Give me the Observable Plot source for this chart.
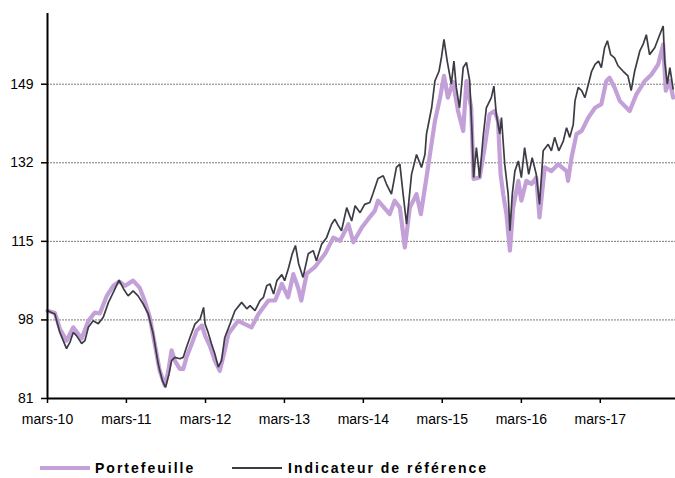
<!DOCTYPE html>
<html>
<head>
<meta charset="utf-8">
<script src="https://cdn.jsdelivr.net/npm/d3@7"></script>
<script src="https://cdn.jsdelivr.net/npm/@observablehq/plot@0.6"></script>
<style>
  html, body { margin: 0; padding: 0; background: #fff; }
  #wrap { position: relative; width: 675px; height: 478px; font-family: "Liberation Sans", Arial, sans-serif; }
  #legend { position: absolute; left: 0; top: 458px; width: 675px; height: 20px; }
  .lg { position: absolute; top: 0; font-weight: bold; font-size: 14px; letter-spacing: 2px; color: #000; line-height: 20px; }
  .sw { position: absolute; }
</style>
</head>
<body>
<div id="wrap">
  <div id="chart"></div>
  <div id="legend"></div>
</div>
<script>
// ---- Data ----
const seriesNames = ["Portefeuille", "Indicateur de référence"];
const seriesColors = ["#c4a0d8", "#3c3c44"];

const portDates = [
  "2010-03-01","2010-04-04","2010-04-27","2010-05-28","2010-06-28","2010-08-06","2010-09-06","2010-10-06","2010-10-29","2010-11-30",
  "2010-12-31","2011-01-26","2011-02-23","2011-04-01","2011-05-01","2011-05-24","2011-06-17","2011-07-10","2011-08-02","2011-08-26",
  "2011-09-11","2011-09-26","2011-10-11","2011-11-03","2011-11-19","2011-12-04","2011-12-28","2012-01-20","2012-02-13","2012-02-28",
  "2012-03-21","2012-04-13","2012-05-06","2012-05-27","2012-06-15","2012-07-30","2012-09-30","2012-11-01","2012-12-17","2013-01-17",
  "2013-02-17","2013-03-18","2013-04-11","2013-05-03","2013-05-18","2013-06-12","2013-07-19","2013-09-05","2013-10-13","2013-11-13",
  "2013-12-22","2014-01-14","2014-02-22","2014-03-23","2014-04-23","2014-05-08","2014-05-23","2014-07-01","2014-07-24","2014-08-17",
  "2014-09-09","2014-10-02","2014-11-02","2014-11-22","2014-12-18","2015-01-03","2015-01-26","2015-02-19","2015-03-09","2015-03-27",
  "2015-04-20","2015-05-13","2015-06-06","2015-06-21","2015-07-13","2015-07-24","2015-08-21","2015-09-13","2015-10-06","2015-10-29",
  "2015-11-14","2015-11-26","2015-12-08","2015-12-23","2016-01-08","2016-01-23","2016-02-16","2016-03-01","2016-03-24","2016-04-17",
  "2016-05-09","2016-05-24","2016-06-17","2016-07-18","2016-08-18","2016-09-26","2016-10-03","2016-10-19","2016-11-11","2016-12-05",
  "2017-01-05","2017-02-05","2017-03-06","2017-03-29","2017-04-13","2017-05-06","2017-05-30","2017-07-15","2017-08-15","2017-09-23",
  "2017-10-24","2017-11-24","2017-12-17","2017-12-29","2018-01-17","2018-02-01"
];
const portValues = [
  100, 99.5, 96.1, 93.5, 96.4, 94, 97.8, 99.6, 99.4, 103.2,
  105.4, 106.3, 105.4, 106.5, 105, 102.2, 98.6, 92.8, 87, 83.8,
  87, 91.4, 89.2, 87.4, 87.4, 89.9, 92.8, 95.7, 96.8, 94.6,
  92.4, 89.2, 87, 91, 95, 97.8, 96.4, 99.3, 102.2, 102.2,
  105.8, 102.9, 107.9, 105, 102.2, 108, 109.4, 112.3, 115.8, 115.1,
  118.7, 114.8, 118, 119.8, 121.6, 123.8, 123, 120.9, 123.8, 122.3,
  113.7, 122.3, 125.2, 120.9, 128.8, 133.8, 141, 146.1, 150.8, 146.1,
  149.5, 143.2, 138.9, 149.7, 143.9, 128.5, 128.8, 135.3, 142.5, 143.2,
  141, 129.5, 125.2, 120.9, 113, 122.3, 128.1, 123.8, 128.1, 127.4,
  128.8, 120.2, 131, 130.2, 131.7, 130.2, 128.1, 133.1, 138.2, 138.9,
  141.8, 143.9, 144.7, 149.7, 150.4, 148.3, 145.4, 143.2, 146.8, 149.7,
  151.1, 153.3, 157.6, 147.6, 149.7, 146.1
];

const refDates = [
  "2010-03-01","2010-04-04","2010-04-27","2010-05-28","2010-06-13","2010-06-28","2010-07-13","2010-08-06","2010-08-21","2010-09-06",
  "2010-09-28","2010-10-22","2010-11-14","2010-12-08","2010-12-31","2011-01-26","2011-02-16","2011-03-09","2011-04-01","2011-04-24",
  "2011-05-17","2011-06-10","2011-07-03","2011-07-26","2011-08-14","2011-08-29","2011-09-14","2011-09-26","2011-10-11","2011-11-03",
  "2011-11-19","2011-12-04","2011-12-20","2012-01-12","2012-02-05","2012-02-21","2012-02-28","2012-03-13","2012-03-29","2012-04-13",
  "2012-04-29","2012-05-14","2012-05-29","2012-06-22","2012-07-15","2012-08-15","2012-09-08","2012-09-23","2012-10-16","2012-11-08",
  "2012-11-24","2012-12-09","2012-12-24","2013-01-10","2013-01-25","2013-02-17","2013-03-02","2013-03-21","2013-04-06","2013-04-21",
  "2013-05-06","2013-05-26","2013-06-19","2013-07-12","2013-07-27","2013-08-20","2013-09-12","2013-10-05","2013-10-20","2013-11-05",
  "2013-11-20","2013-12-14","2014-01-06","2014-01-22","2014-02-14","2014-03-07","2014-03-31","2014-04-15","2014-05-08","2014-06-01",
  "2014-06-16","2014-07-09","2014-08-01","2014-08-17","2014-09-01","2014-09-17","2014-10-10","2014-11-02","2014-11-25","2014-12-11",
  "2014-12-18","2015-01-11","2015-01-26","2015-02-14","2015-02-26","2015-03-09","2015-03-24","2015-04-12","2015-04-24","2015-05-05",
  "2015-05-20","2015-06-06","2015-06-21","2015-07-06","2015-07-17","2015-07-24","2015-08-06","2015-08-21","2015-09-06","2015-09-21",
  "2015-10-14","2015-10-26","2015-11-06","2015-11-22","2015-11-30","2015-12-15","2015-12-31","2016-01-08","2016-01-19","2016-01-31",
  "2016-02-16","2016-03-01","2016-03-16","2016-04-04","2016-04-20","2016-05-09","2016-05-24","2016-06-10","2016-07-03","2016-07-18",
  "2016-08-02","2016-08-21","2016-09-11","2016-09-26","2016-10-11","2016-10-27","2016-11-04","2016-11-19","2016-12-05","2016-12-20",
  "2017-01-05","2017-01-20","2017-02-05","2017-02-21","2017-03-06","2017-03-21","2017-04-03","2017-04-18","2017-05-06","2017-05-22",
  "2017-06-15","2017-07-07","2017-07-22","2017-08-07","2017-08-31","2017-09-15","2017-09-30","2017-10-15","2017-11-08","2017-12-01",
  "2017-12-17","2017-12-24","2018-01-05","2018-01-17","2018-02-01"
];
const refValues = [
  100, 99.3, 95.3, 91.8, 93.2, 95.3, 94.6, 92.9, 93.5, 96.4,
  97.8, 97.2, 98.6, 101.8, 104, 106.6, 104.7, 103.2, 104.3, 103.2,
  101.5, 99.3, 95, 88.5, 84.9, 83.4, 86.3, 89.2, 89.9, 89.6,
  89.9, 92.1, 94.2, 97.1, 98.2, 100.7, 97.1, 95.3, 92.8, 90.7,
  87.8, 89.2, 94.2, 97.1, 100, 101.8, 100.4, 101.1, 100, 102.2,
  102.9, 105.4, 105.8, 103.6, 106.5, 107.8, 106.5, 109.4, 112.3, 114.1,
  110.1, 107.2, 112.3, 113, 110.8, 114.4, 115.8, 118.7, 119.8, 118.4,
  117.3, 122.3, 119.4, 122.7, 121.2, 123, 123.4, 125.4, 128.6, 129.2,
  127.4, 125.2, 131, 131.7, 125.2, 118.7, 129.5, 133.8, 131, 133.8,
  138.2, 143.9, 149.7, 151.8, 155, 158.7, 154, 149, 154, 148.3,
  143.9, 152.6, 153.7, 149.7, 138.2, 128.8, 135.3, 128.8, 137.5, 143.9,
  146.1, 148.6, 142.5, 138.2, 141.8, 131.7, 125.2, 117.3, 125.2, 130.2,
  132.4, 128.8, 135.3, 129.5, 133.1, 129.5, 123, 134.6, 136, 134.6,
  137.5, 134.6, 136.7, 139.6, 137.5, 140.3, 145.4, 148.3, 147.6, 146.1,
  149, 151.8, 153.3, 154, 152.6, 156.9, 158.4, 155.4, 154.7, 153,
  151.8, 150.8, 147.6, 151.8, 156.2, 157.6, 159.7, 155.4, 156.9, 159.7,
  161.6, 154, 149, 152.6, 148
];

const yTicks = [81, 98, 115, 132, 149];
const gridValues = [98, 115, 132, 149];
const xTickDates = ["2010-03-01","2011-03-01","2012-03-01","2013-03-01","2014-03-01","2015-03-01","2016-03-01","2017-03-01"];
const xTickLabels = ["mars-10","mars-11","mars-12","mars-13","mars-14","mars-15","mars-16","mars-17"];
const xDomain = ["2010-03-01", "2018-02-12"];
const yDomain = [81, 164.3];

// ---- Build tables ----
const parse = d3.utcParse("%Y-%m-%d");
const port = portDates.map((d, i) => ({date: parse(d), value: portValues[i]}));
const ref = refDates.map((d, i) => ({date: parse(d), value: refValues[i]}));
const xTicks = xTickDates.map(parse);
const labelOf = new Map(xTicks.map((d, i) => [+d, xTickLabels[i]]));

const chart = Plot.plot({
  width: 675,
  height: 430,
  marginLeft: 47,
  marginRight: 0,
  marginTop: 13,
  marginBottom: 32,
  style: {fontFamily: '"Liberation Sans", Arial, sans-serif', fontSize: "14px", color: "#000", background: "#fff", overflow: "visible"},
  x: {type: "utc", domain: xDomain.map(parse)},
  y: {domain: yDomain},
  marks: [
    Plot.ruleY(gridValues, {stroke: "#7a7a7a", strokeWidth: 1, strokeDasharray: "2,1"}),
    Plot.line(port, {x: "date", y: "value", stroke: seriesColors[0], strokeWidth: 4.2, strokeLinejoin: "round", strokeLinecap: "round"}),
    Plot.line(ref, {x: "date", y: "value", stroke: seriesColors[1], strokeWidth: 1.7, strokeLinejoin: "miter"}),
    Plot.axisY({ticks: yTicks, tickSize: 6, tickPadding: 8, stroke: "#000", strokeWidth: 1.5, label: null, fontSize: 14}),
    Plot.axisX({ticks: xTicks, tickFormat: d => labelOf.get(+d), tickSize: 5, tickPadding: 11, stroke: "#000", strokeWidth: 1.5, label: null, fontSize: 14}),
    Plot.ruleX([parse(xDomain[0])], {stroke: "#000", strokeWidth: 2}),
    Plot.ruleY([yDomain[0]], {stroke: "#000", strokeWidth: 2})
  ]
});
document.getElementById("chart").appendChild(chart);

// ---- Legend ----
const legend = document.getElementById("legend");
const items = [
  {name: seriesNames[0], color: seriesColors[0], w: 4, x0: 40, tx: 95},
  {name: seriesNames[1], color: seriesColors[1], w: 1.6, x0: 232, tx: 288}
];
for (const it of items) {
  const sw = document.createElement("div");
  sw.className = "sw";
  sw.style.left = it.x0 + "px";
  sw.style.width = "50px";
  sw.style.top = (10 - it.w / 2) + "px";
  sw.style.height = it.w + "px";
  sw.style.background = it.color;
  legend.appendChild(sw);
  const t = document.createElement("div");
  t.className = "lg";
  t.style.left = it.tx + "px";
  t.textContent = it.name;
  legend.appendChild(t);
}
</script>
</body>
</html>
